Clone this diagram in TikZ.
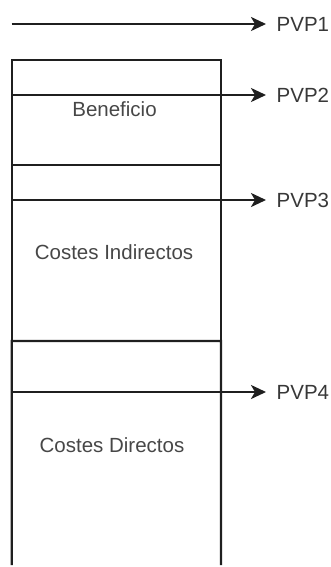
\documentclass[tikz,border=0pt]{standalone}
\usepackage{fontspec}
\setmainfont{Liberation Sans}
\usetikzlibrary{arrows.meta}
\begin{document}
\begin{tikzpicture}[x=1pt,y=-1pt,
  line/.style={line width=2.2pt,draw=black!88},
  boxst/.style={draw=black!88,line width=2.2pt,outer sep=0pt,inner sep=0pt,minimum width=209.3pt},
  arr/.style={line width=2.2pt,draw=black!88,-{Stealth[length=15pt,width=14pt,inset=4pt]}},
  lbl/.style={anchor=west,inner ysep=0pt,inner xsep=10.5pt,text=black!78,font=\fontsize{20.5}{24}\selectfont},
  txt/.style={inner sep=0pt,text=black!72,font=\fontsize{20.5}{24}\selectfont}]
\useasboundingbox (0,0) rectangle (331,567);
% boxes
\node[boxst,minimum height=105pt] (b1) at (116.35,112.5) {};
\node[boxst,minimum height=176pt] (b2) at (116.35,253) {};
\draw[line] (11.7,565) -- (b2.south west) -- (b2.south east) -- (221,565);
% texts
\node[txt] (t1) at (114.5,109.5) {Beneficio};
\node[txt] (t2) at (114,252) {Costes Indirectos};
\node[txt] (t3) at (112,445) {Costes Directos};
% labels
\node[lbl] (p1) at (266,24) {PVP1};
\node[lbl] (p2) at (266,95) {PVP2};
\node[lbl] (p3) at (266,200) {PVP3};
\node[lbl] (p4) at (266,392) {PVP4};
% arrow starts
\coordinate (s1) at (11.7,24);
\coordinate (s2) at (11.7,95);
\coordinate (s3) at (11.7,200);
\coordinate (s4) at (11.7,392);
\draw[arr] (s1) -- (p1.west);
\draw[arr] (s2) -- (p2.west);
\draw[arr] (s3) -- (p3.west);
\draw[arr] (s4) -- (p4.west);
\end{tikzpicture}
\end{document}
